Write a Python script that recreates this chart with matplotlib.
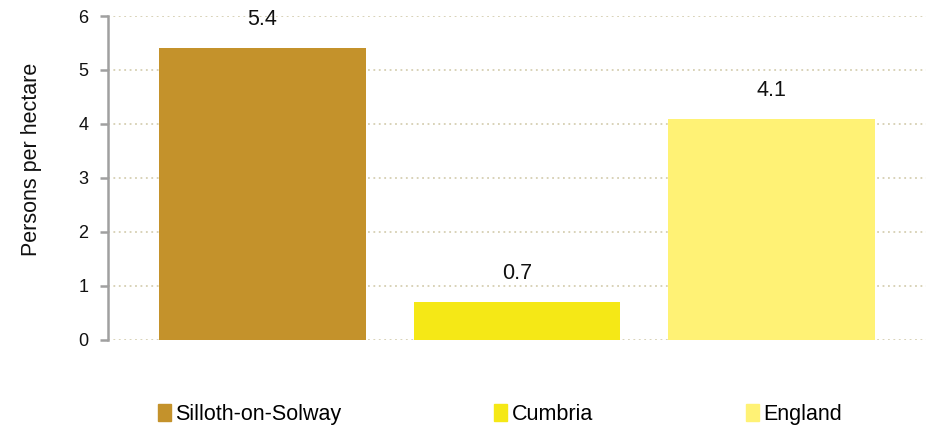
import matplotlib
matplotlib.use("Agg")
import matplotlib.pyplot as plt
from matplotlib.patches import Rectangle

# Population density by area
categories = ["Silloth-on-Solway", "Cumbria", "England"]
values = [5.4, 0.7, 4.1]
colors = ["#C4922B", "#F5E816", "#FFF275"]
yticks = [0, 1, 2, 3, 4, 5, 6]

plt.rcParams["font.family"] = ["Liberation Sans", "DejaVu Sans"]

fig = plt.figure(figsize=(9.26, 4.29), dpi=100)
ax = fig.add_axes([0.1166, 0.2075, 0.8834, 0.7552])

x = list(range(len(categories)))
ax.bar(x, values, width=0.81, color=colors, zorder=3)

for xi, v in zip(x, values):
    ax.annotate(f"{v:.1f}", (xi, v), xytext=(0, 20.5), textcoords="offset points",
                ha="center", va="center", fontsize=15.5, color="#111111")

ax.set_xlim(-0.607, 2.607)
ax.set_ylim(0, 6)
ax.set_yticks(yticks)
ax.set_yticklabels([str(t) for t in yticks], fontsize=13, color="#111111")
ax.set_xticks([])

ax.yaxis.grid(True, linestyle=(0, (1, 2)), color="#D6CFB2", linewidth=1.3, zorder=0)
ax.set_axisbelow(True)

for side in ("top", "right", "bottom"):
    ax.spines[side].set_visible(False)
ax.spines["left"].set_color("#A0A0A0")
ax.spines["left"].set_linewidth(1.8)
ax.tick_params(axis="y", length=6, width=1.8, color="#A0A0A0", pad=8)

ax.set_ylabel("Persons per hectare", fontsize=15.5, color="#111111")
ax.yaxis.set_label_coords(-0.081, 0.556)

handles = [Rectangle((0, 0), 1, 1, color=c) for c in colors]
fig.legend(handles, categories, loc="center", bbox_to_anchor=(0.54, 0.034),
           ncol=3, frameon=False, fontsize=15.5, handlelength=0.6, handleheight=0.8,
           handletextpad=0.2, columnspacing=7.1)

fig.savefig("out.png", dpi=100)
